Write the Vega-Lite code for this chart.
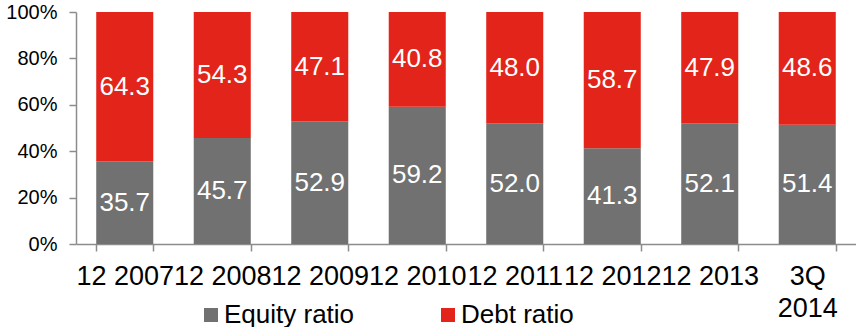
{
  "$schema": "https://vega.github.io/schema/vega-lite/v6.json",
  "width": 780,
  "height": 232,
  "autosize": {"type": "none"},
  "padding": {"left": 76, "top": 12, "right": 0, "bottom": 83},
  "background": "white",
  "config": {
    "view": {"stroke": null},
    "font": "Liberation Sans"
  },
  "data": {
    "values": [
      {"period": "12 2007", "series": "Equity ratio", "value": 35.7},
      {"period": "12 2007", "series": "Debt ratio", "value": 64.3},
      {"period": "12 2008", "series": "Equity ratio", "value": 45.7},
      {"period": "12 2008", "series": "Debt ratio", "value": 54.3},
      {"period": "12 2009", "series": "Equity ratio", "value": 52.9},
      {"period": "12 2009", "series": "Debt ratio", "value": 47.1},
      {"period": "12 2010", "series": "Equity ratio", "value": 59.2},
      {"period": "12 2010", "series": "Debt ratio", "value": 40.8},
      {"period": "12 2011", "series": "Equity ratio", "value": 52.0},
      {"period": "12 2011", "series": "Debt ratio", "value": 48.0},
      {"period": "12 2012", "series": "Equity ratio", "value": 41.3},
      {"period": "12 2012", "series": "Debt ratio", "value": 58.7},
      {"period": "12 2013", "series": "Equity ratio", "value": 52.1},
      {"period": "12 2013", "series": "Debt ratio", "value": 47.9},
      {"period": "3Q\n2014", "series": "Equity ratio", "value": 51.4},
      {"period": "3Q\n2014", "series": "Debt ratio", "value": 48.6}
    ]
  },
  "encoding": {
    "x": {
      "field": "period",
      "type": "nominal",
      "sort": null,
      "scale": {"paddingInner": 0.415, "paddingOuter": 0.2075},
      "axis": {
        "title": null,
        "labelAngle": 0,
        "labelFontSize": 27,
        "labelColor": "#000000",
        "labelFont": "Liberation Sans",
        "labelOverlap": false,
        "labelBound": false,
        "labelPadding": 12,
        "labelLineHeight": 32,
        "labelExpr": "isString(datum.value) ? split(datum.value, '\\n') : ''",
        "tickBand": "extent",
        "tickSize": 7,
        "tickColor": "#8c8c8c",
        "tickWidth": 1.5,
        "domainColor": "#8c8c8c",
        "domainWidth": 1.5
      }
    },
    "y": {
      "field": "value",
      "type": "quantitative",
      "stack": "zero",
      "scale": {"domain": [0, 100], "nice": false},
      "axis": {
        "title": null,
        "values": [0, 20, 40, 60, 80, 100],
        "labelExpr": "datum.value + '%'",
        "labelFontSize": 20,
        "labelColor": "#000000",
        "labelFont": "Liberation Sans",
        "labelPadding": 12,
        "grid": false,
        "tickSize": 7,
        "tickColor": "#8c8c8c",
        "tickWidth": 1.5,
        "domainColor": "#8c8c8c",
        "domainWidth": 1.5
      }
    },
    "order": {"field": "series", "sort": "descending"}
  },
  "layer": [
    {
      "mark": {"type": "bar"},
      "encoding": {
        "color": {
          "field": "series",
          "type": "nominal",
          "scale": {"domain": ["Equity ratio", "Debt ratio"], "range": ["#717171", "#e3241a"]},
          "legend": {
            "title": null,
            "orient": "none",
            "direction": "horizontal",
            "legendX": 122,
            "legendY": 290,
            "padding": 0,
            "symbolType": "square",
            "symbolSize": 196,
            "symbolStrokeWidth": 0,
            "symbolOpacity": 1,
            "labelFontSize": 26,
            "labelFont": "Liberation Sans",
            "labelColor": "#000000",
            "labelOffset": 0,
            "labelLimit": 300,
            "columnPadding": 80
          }
        }
      }
    },
    {
      "mark": {"type": "text", "color": "white", "fontSize": 26, "font": "Liberation Sans", "baseline": "middle", "align": "center"},
      "encoding": {
        "y": {"field": "value", "type": "quantitative", "stack": "zero", "bandPosition": 0.5},
        "text": {"field": "value", "type": "quantitative", "format": ".1f"}
      }
    }
  ]
}
